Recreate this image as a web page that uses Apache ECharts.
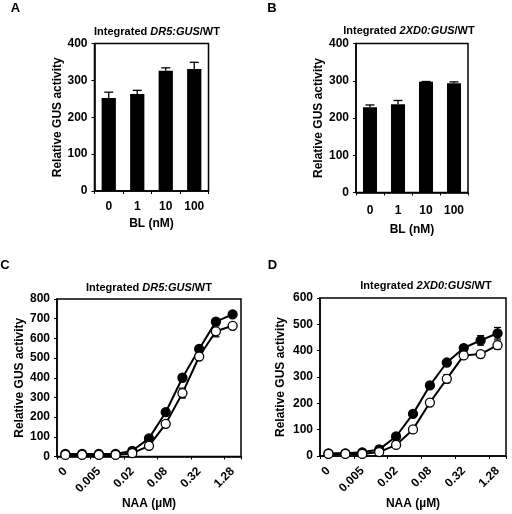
<!DOCTYPE html>
<html><head><meta charset="utf-8">
<script src="https://cdn.jsdelivr.net/npm/echarts@6/dist/echarts.min.js"></script>
<style>html,body{margin:0;padding:0;background:#fff}#c{width:512px;height:514px}</style>
</head><body><div id="c"></div>
<script>
// ---- data ----
const blCats = ['0', '1', '10', '100'];
const dr5BL = [252, 263, 326, 331];
const dr5BLErr = [16, 10, 8, 18];
const xd0BL = [229, 237, 297, 293];
const xd0BLErr = [6, 10, 1, 4];

const naaCats = ['0', '0.0025', '0.005', '0.01', '0.02', '0.04', '0.08', '0.16', '0.32', '0.64', '1.28'];
const dr5Filled = [13, 13, 13, 13, 29, 92, 225, 400, 546, 685, 722];
const dr5FilledErr = [3, 3, 3, 3, 5, 8, 10, 10, 10, 10, 8];
const dr5Open = [8, 8, 8, 8, 17, 54, 166, 322, 508, 636, 664];
const dr5OpenErr = [3, 3, 3, 3, 5, 8, 12, 25, 10, 28, 10];
const xd0Filled = [10, 10, 14, 25, 74, 160, 268, 355, 410, 439, 466];
const xd0FilledErr = [2, 2, 3, 4, 5, 6, 8, 8, 8, 18, 22];
const xd0Open = [8, 8, 8, 15, 42, 101, 203, 293, 382, 387, 421];
const xd0OpenErr = [2, 2, 2, 3, 4, 6, 10, 15, 8, 12, 15];

const FONT = '"Liberation Sans", Arial, sans-serif';
const chart = echarts.init(document.getElementById('c'));

function errSeries(xi, yi, vals, errs, upOnly, cap) {
  return {
    type: 'custom', xAxisIndex: xi, yAxisIndex: yi, z: 1,
    data: vals.map((v, i) => [i, v, errs[i]]),
    renderItem: function (params, api) {
      const i = api.value(0), v = api.value(1), e = api.value(2);
      const top = api.coord([i, v + e]);
      const bot = api.coord([i, upOnly ? v : v - e]);
      const children = [
        {type: 'line', shape: {x1: top[0], y1: top[1], x2: bot[0], y2: bot[1]}, style: {stroke: '#000', lineWidth: 1.3}},
        {type: 'line', shape: {x1: top[0] - cap, y1: top[1], x2: top[0] + cap, y2: top[1]}, style: {stroke: '#000', lineWidth: 1.3}}
      ];
      if (!upOnly) children.push({type: 'line', shape: {x1: bot[0] - cap, y1: bot[1], x2: bot[0] + cap, y2: bot[1]}, style: {stroke: '#000', lineWidth: 1.3}});
      return {type: 'group', children: children};
    }
  };
}

const grids = [
  {left: 94.5, top: 43.5, width: 114, height: 147.5},
  {left: 356, top: 43.5, width: 112, height: 149},
  {left: 57, top: 299, width: 184, height: 157.5},
  {left: 320, top: 298, width: 186, height: 158}
].map(g => Object.assign({show: true, borderColor: '#000', borderWidth: 1.5, containLabel: false}, g));

const labelStyle = {color: '#000', fontFamily: FONT, fontWeight: 'bold', fontSize: 12};
function xAx(idx, cats, name, nameGap, rotate, margin) {
  return {
    type: 'category', gridIndex: idx, data: cats, boundaryGap: true,
    axisLine: {show: true, lineStyle: {color: '#000', width: 1.5}},
    axisTick: {show: true, length: 3, lineStyle: {color: '#000', width: 1}},
    axisLabel: Object.assign({margin: margin, rotate: rotate || 0, interval: rotate ? 1 : 0}, labelStyle),
    name: name, nameLocation: 'middle', nameGap: nameGap,
    nameTextStyle: {color: '#000', fontFamily: FONT, fontWeight: 'bold', fontSize: 12}
  };
}
function yAx(idx, max, nameGap) {
  return {
    type: 'value', gridIndex: idx, min: 0, max: max, interval: 100,
    splitLine: {show: false},
    axisLine: {show: true, lineStyle: {color: '#000', width: 1.5}},
    axisTick: {show: true, length: 3, lineStyle: {color: '#000', width: 1}},
    axisLabel: Object.assign({margin: 7}, labelStyle),
    name: 'Relative GUS activity', nameLocation: 'middle', nameGap: nameGap,
    nameTextStyle: {color: '#000', fontFamily: FONT, fontWeight: 'bold', fontSize: 12}
  };
}

function titleObj(text, x, y) {
  return {
    text: text, left: x, top: y, textAlign: 'center',
    textStyle: {color: '#000', fontFamily: FONT, fontWeight: 'bold', fontSize: 11,
      rich: {i: {fontStyle: 'italic', fontWeight: 'bold', fontFamily: FONT, fontSize: 11, color: '#000'}}}
  };
}
function letter(t, x, y) {
  return {type: 'text', x: x, y: y, style: {text: t, fill: '#000', font: 'bold 13px ' + FONT, textAlign: 'center', textVerticalAlign: 'middle'}};
}

function lineSeries(xi, yi, vals, filled) {
  return {
    type: 'line', xAxisIndex: xi, yAxisIndex: yi, data: vals, z: 3,
    symbol: 'circle', symbolSize: 9,
    lineStyle: {color: '#000', width: 2},
    itemStyle: {color: filled ? '#000' : '#fff', borderColor: '#000', borderWidth: 1.3},
    animation: false
  };
}

chart.setOption({
  animation: false,
  title: [
    titleObj('Integrated {i|DR5:GUS}/WT', 152, 21),
    titleObj('Integrated {i|2XD0:GUS}/WT', 404, 20.5),
    titleObj('Integrated {i|DR5:GUS}/WT', 144, 277.5),
    titleObj('Integrated {i|2XD0:GUS}/WT', 421, 275.5)
  ],
  graphic: [letter('A', 15.5, 8.5), letter('B', 272, 8.5), letter('C', 5, 265), letter('D', 272.5, 265)],
  grid: grids,
  xAxis: [
    xAx(0, blCats, 'BL (nM)', 27, 0, 10),
    xAx(1, blCats, 'BL (nM)', 31, 0, 12),
    xAx(2, naaCats, 'NAA (µM)', 41, 45, 13),
    xAx(3, naaCats, 'NAA (µM)', 41, 45, 13)
  ],
  yAxis: [yAx(0, 400, 31), yAx(1, 400, 31), yAx(2, 800, 31), yAx(3, 600, 33)],
  series: [
    {type: 'bar', xAxisIndex: 0, yAxisIndex: 0, data: dr5BL, barWidth: '50%', itemStyle: {color: '#000'}, z: 2},
    errSeries(0, 0, dr5BL, dr5BLErr, true, 4.5),
    {type: 'bar', xAxisIndex: 1, yAxisIndex: 1, data: xd0BL, barWidth: '50%', itemStyle: {color: '#000'}, z: 2},
    errSeries(1, 1, xd0BL, xd0BLErr, true, 4.5),
    errSeries(2, 2, dr5Filled, dr5FilledErr, false, 3.5),
    errSeries(2, 2, dr5Open, dr5OpenErr, false, 3.5),
    lineSeries(2, 2, dr5Filled, true),
    lineSeries(2, 2, dr5Open, false),
    errSeries(3, 3, xd0Filled, xd0FilledErr, false, 3.5),
    errSeries(3, 3, xd0Open, xd0OpenErr, false, 3.5),
    lineSeries(3, 3, xd0Filled, true),
    lineSeries(3, 3, xd0Open, false)
  ]
});
</script></body></html>
